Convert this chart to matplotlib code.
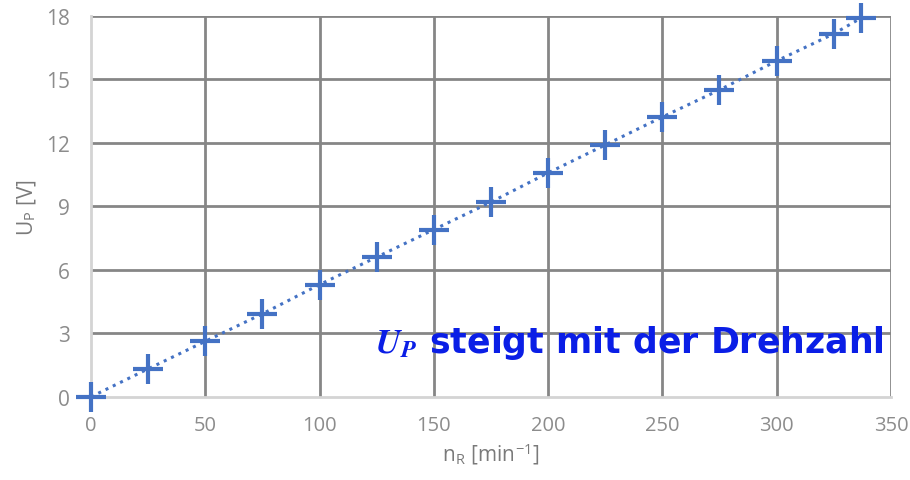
import matplotlib
matplotlib.use("Agg")
import matplotlib.pyplot as plt

plt.rcParams["mathtext.fontset"] = "stix"

# Drehzahl n_R [min^-1] und Spannung U_P [V]
n_R = [0, 25, 50, 75, 100, 125, 150, 175, 200, 225, 250, 275, 300, 325, 337]
U_P = [0, 1.32, 2.62, 3.92, 5.3, 6.6, 7.9, 9.2, 10.58, 11.9, 13.22, 14.5, 15.87, 17.15, 17.9]

x_ticks = [0, 50, 100, 150, 200, 250, 300, 350]
y_ticks = [0, 3, 6, 9, 12, 15, 18]

blue = "#4472C4"
grid_dark = "#868686"
grid_light = "#d4d4d4"
tick_grey = "#8c8c8c"

fig = plt.figure(figsize=(9.10, 4.81), dpi=100)
ax = fig.add_axes([0.1, 0.173, 0.879, 0.792])

ax.set_xlim(0, 350)
ax.set_ylim(0, 18)
ax.set_xticks(x_ticks)
ax.set_yticks(y_ticks)

# Gitterlinien
for xv in x_ticks[1:]:
    ax.axvline(xv, color=grid_dark, lw=2.0, zorder=1)
for yv in y_ticks[1:]:
    ax.axhline(yv, color=grid_dark, lw=2.0, zorder=1)

for side in ["top", "right"]:
    ax.spines[side].set_visible(False)
ax.spines["left"].set_color(grid_light)
ax.spines["left"].set_linewidth(2.0)
ax.spines["bottom"].set_color(grid_light)
ax.spines["bottom"].set_linewidth(2.0)

ax.tick_params(axis="x", length=0, labelsize=14.5, labelcolor=tick_grey, pad=13)
ax.tick_params(axis="y", length=0, labelsize=15, labelcolor=tick_grey, pad=15)
for lab in ax.get_xticklabels() + ax.get_yticklabels():
    lab.set_family("Open Sans")

ax.plot(n_R, U_P, linestyle=":", color=blue, lw=2.2, marker="+",
        markersize=21, markeredgewidth=3, zorder=3, clip_on=False)

ax.set_xlabel(r"n$_\mathregular{R}$ [min$^\mathregular{-1}$]", fontsize=15,
              color="#7a7a7a", family="Open Sans", labelpad=4)
ax.set_ylabel(r"U$_\mathregular{P}$ [V]", fontsize=15,
              color="#7a7a7a", family="Open Sans", labelpad=6)

ax.text(347, 2.1, r"$\mathbfit{U}_{\mathbfit{P}}$ steigt mit der Drehzahl", ha="right", va="baseline",
        fontsize=25, fontweight="bold", color="#0a1ee6", family="DejaVu Sans", zorder=4)

fig.savefig("out.png", dpi=100)
